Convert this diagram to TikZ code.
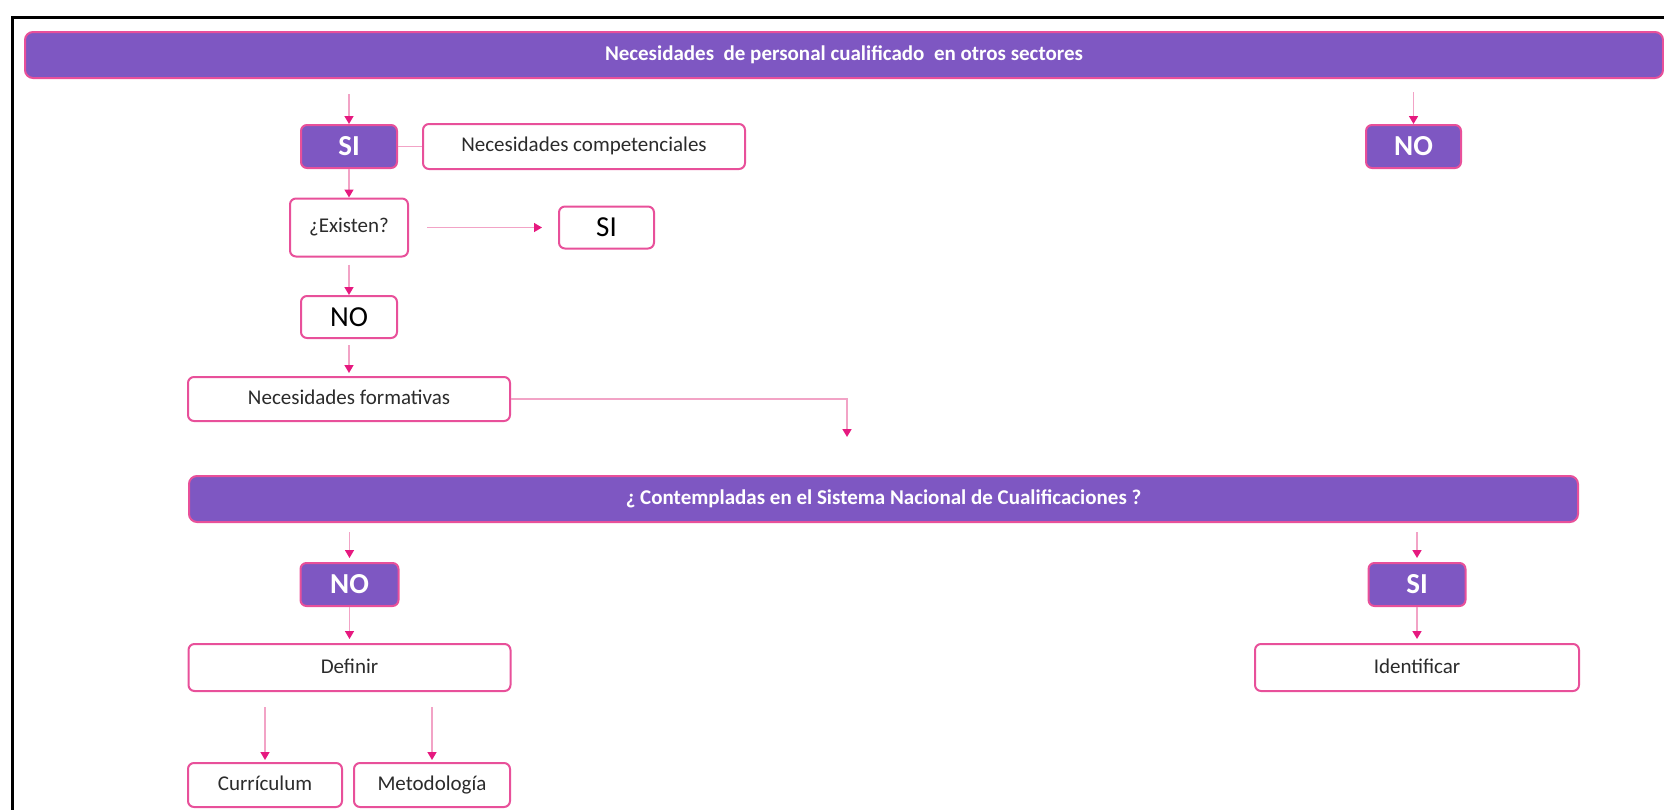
\documentclass[tikz,border=0pt]{standalone}
\usepackage{fontspec}
\setmainfont{Carlito}
\usetikzlibrary{arrows.meta}
\definecolor{purp}{HTML}{7E57C2}
\definecolor{bpink}{HTML}{E8509A}
\definecolor{lpink}{HTML}{F2A3C6}
\definecolor{apink}{HTML}{E6197F}
\definecolor{txt}{HTML}{2B2B2B}
\tikzset{
  pbox/.style={draw=bpink, line width=1pt, fill=purp, rounded corners=3pt, text=white,
    font=\bfseries\fontsize{14.5}{14.5}\selectfont, inner sep=0pt},
  banner/.style={draw=bpink, line width=1pt, fill=purp, rounded corners=4pt, text=white,
    font=\bfseries\fontsize{10.5}{10.5}\selectfont, inner sep=0pt},
  wbox/.style={draw=bpink, line width=1pt, fill=white, rounded corners=3pt, text=txt,
    inner sep=0pt, text height=1.6ex, text depth=0.45ex, font=\fontsize{10.5}{12}\selectfont},
  bigw/.style={draw=bpink, line width=1pt, fill=white, rounded corners=3pt, inner sep=0pt,
    text=black, font=\fontsize{14.5}{14.5}\selectfont},
  conn/.style={draw=lpink, line width=0.8pt, -{Triangle[length=4pt,width=4.5pt,color=apink]}},
  plain/.style={draw=lpink, line width=0.8pt},
}
\begin{document}
\begin{tikzpicture}[x=0.5pt,y=-0.5pt]
\useasboundingbox (0,0) rectangle (1664,809);
% frame
\draw[line width=1.5pt, black] (12,812) -- (12,17) -- (1666,17);

% banners
\node[banner, minimum width=819pt, minimum height=23pt] (ban1) at (844,55)
  {Necesidades\ \ de personal cualificado\ \ en otros sectores};
\node[banner, minimum width=694.5pt, minimum height=23pt] (ban2) at (883.5,499)
  {¿ Contempladas en el Sistema Nacional de Cualificaciones ?};

% upper part
\node[pbox, minimum width=48pt, minimum height=21.5pt] (si1) at (349,146.5) {SI};
\node[wbox, minimum width=161pt, minimum height=22.5pt] (comp) at (584,146.5) {Necesidades competenciales};
\node[pbox, minimum width=47.5pt, minimum height=21.5pt] (no1) at (1413.5,146.5) {NO};
\node[wbox, minimum width=59pt, minimum height=29pt] (exist) at (349,227.5) {¿Existen?};
\node[bigw, minimum width=47.5pt, minimum height=21pt] (si2) at (606.5,227.5) {SI};
\node[bigw, minimum width=48pt, minimum height=21pt] (no2) at (349,317) {NO};
\node[wbox, minimum width=161pt, minimum height=22pt] (form) at (349,399) {Necesidades formativas};
\coordinate (fend) at (847,437);

% lower part
\node[pbox, minimum width=49pt, minimum height=21.5pt] (no3) at (349.5,584.5) {NO};
\node[wbox, minimum width=161pt, minimum height=23.5pt] (defi) at (349.5,667.5) {Definir};
\node[pbox, minimum width=48.5pt, minimum height=21.5pt] (si3) at (1417,584.5) {SI};
\node[wbox, minimum width=162pt, minimum height=23.5pt] (iden) at (1417,667.5) {Identificar};
\node[wbox, minimum width=77pt, minimum height=22pt] (curr) at (265,785) {Currículum};
\node[wbox, minimum width=78pt, minimum height=22pt] (meto) at (432,785) {Metodología};

% connectors
\draw[conn, shorten <=7.5pt] (ban1.south -| si1.north) -- (si1.north);
\draw[conn, shorten <=6.5pt] (ban1.south -| no1.north) -- (no1.north);
\draw[plain] (si1.east) -- (comp.west);
\draw[conn] (si1.south) -- (exist.north);
\draw[conn, shorten <=9pt, shorten >=8pt] (exist.east) -- (si2.west);
\draw[conn, shorten <=3.5pt] (exist.south) -- (no2.north);
\draw[conn, shorten <=3pt, shorten >=1.5pt] (no2.south) -- (form.north);
\draw[conn] (form.east) -- (fend |- form.east) -- (fend);

\draw[conn, shorten <=4.5pt, shorten >=2pt] (ban2.south -| no3.north) -- (no3.north);
\draw[conn, shorten <=4.5pt, shorten >=2pt] (ban2.south -| si3.north) -- (si3.north);
\draw[conn, shorten >=2pt] (no3.south) -- (defi.north);
\draw[conn, shorten >=2pt] (si3.south) -- (iden.north);
\draw[conn, shorten <=7.5pt, shorten >=1pt] (defi.south -| curr.north) -- (curr.north);
\draw[conn, shorten <=7.5pt, shorten >=1pt] (defi.south -| meto.north) -- (meto.north);
\end{tikzpicture}
\end{document}
